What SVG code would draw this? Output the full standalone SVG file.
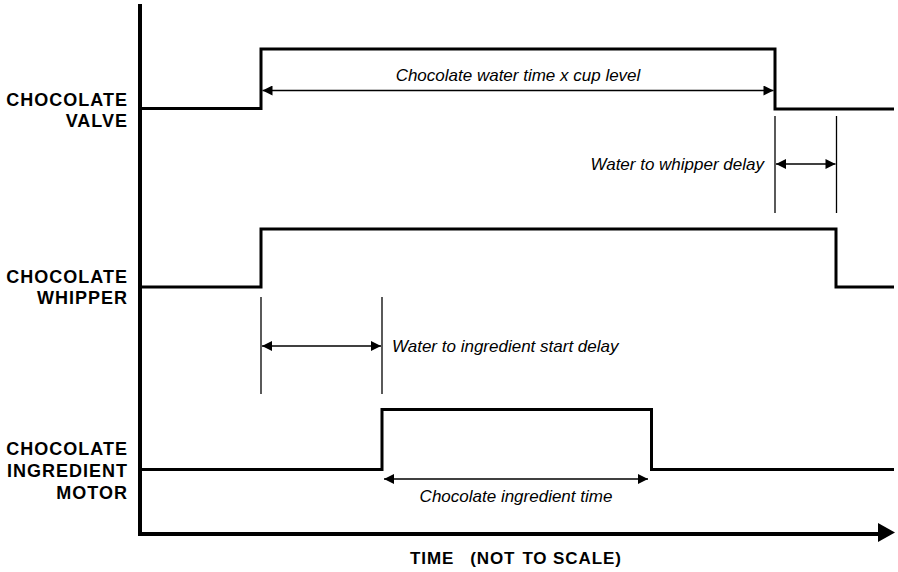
<svg xmlns="http://www.w3.org/2000/svg" width="898" height="572" viewBox="0 0 898 572">
<style>
.sig{fill:none;stroke:#000;stroke-width:3;stroke-linejoin:miter}
.axis{fill:none;stroke:#000;stroke-width:4}
.dim{fill:none;stroke:#000;stroke-width:1.3}
.ext{fill:none;stroke:#000;stroke-width:1.3}
.lbl{font-family:"Liberation Sans",Arial,sans-serif;font-weight:bold;font-size:18px;letter-spacing:1px;text-anchor:end;fill:#000}
.note{font-family:"Liberation Sans",Arial,sans-serif;font-style:italic;font-size:17px;fill:#000}
.title{font-family:"Liberation Sans",Arial,sans-serif;font-weight:bold;font-size:17px;letter-spacing:0.9px;fill:#000}
</style>
<defs>
<marker id="ah" viewBox="0 0 10 10" refX="10" refY="5" markerWidth="11" markerHeight="10" markerUnits="userSpaceOnUse" orient="auto-start-reverse">
<path d="M0,0 L10,5 L0,10 z" fill="#000"/>
</marker>
</defs>
<rect width="898" height="572" fill="#fff"/>
<g id="axes">
<path class="axis" d="M140,4 L140,534 L880,534"/>
<path d="M878,523 L895,532.5 L878,542 z" fill="#000"/>
<text class="title" x="410" y="564">TIME<tspan dx="16">(NOT</tspan><tspan dx="7">TO SCALE)</tspan></text>
</g>
<g id="valve">
<text class="lbl" x="128" y="106">CHOCOLATE</text>
<text class="lbl" x="128" y="127">VALVE</text>
<path class="sig" d="M142,108.5 L261,108.5 L261,49 L775,49 L775,109 L894,109"/>
</g>
<g id="whipper">
<text class="lbl" x="128" y="283">CHOCOLATE</text>
<text class="lbl" x="128" y="304">WHIPPER</text>
<path class="sig" d="M142,287 L261,287 L261,229 L836,229 L836,287 L894,287"/>
</g>
<g id="motor">
<text class="lbl" x="128" y="455">CHOCOLATE</text>
<text class="lbl" x="128" y="477">INGREDIENT</text>
<text class="lbl" x="128" y="499">MOTOR</text>
<path class="sig" d="M142,469.5 L382,469.5 L382,409.5 L651.5,409.5 L651.5,469.5 L894,469.5"/>
</g>
<g id="connectors">
<line class="dim" x1="262.5" y1="90.5" x2="773.5" y2="90.5" marker-start="url(#ah)" marker-end="url(#ah)"/>
<line class="ext" x1="775" y1="116" x2="775" y2="213"/>
<line class="ext" x1="836.5" y1="116" x2="836.5" y2="213"/>
<line class="dim" x1="776" y1="164" x2="835.5" y2="164" marker-start="url(#ah)" marker-end="url(#ah)"/>
<line class="ext" x1="261" y1="297" x2="261" y2="394"/>
<line class="ext" x1="382" y1="297" x2="382" y2="394"/>
<line class="dim" x1="262" y1="346" x2="381" y2="346" marker-start="url(#ah)" marker-end="url(#ah)"/>
<line class="dim" x1="384" y1="479" x2="648" y2="479" marker-start="url(#ah)" marker-end="url(#ah)"/>
</g>
<g id="notes">
<text class="note" x="518" y="81" text-anchor="middle">Chocolate water time x cup level</text>
<text class="note" x="764" y="170" text-anchor="end">Water to whipper delay</text>
<text class="note" x="392" y="352">Water to ingredient start delay</text>
<text class="note" x="516" y="502" text-anchor="middle">Chocolate ingredient time</text>
</g>
</svg>
